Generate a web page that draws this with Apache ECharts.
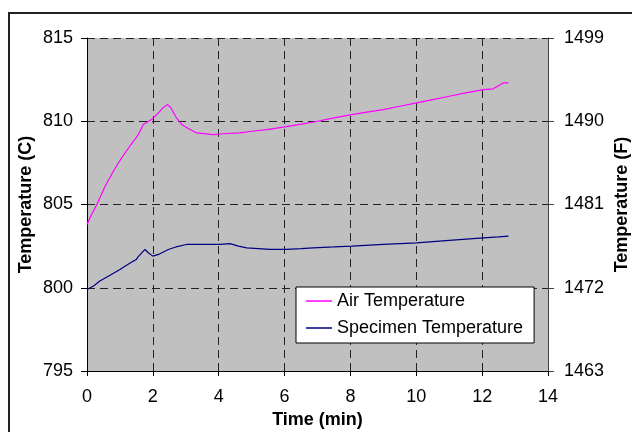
<!DOCTYPE html>
<html><head><meta charset="utf-8">
<script src="https://cdn.jsdelivr.net/npm/echarts@6/dist/echarts.min.js"></script>
<style>html,body{margin:0;padding:0;background:#fff}#c{width:632px;height:432px}</style>
</head><body><div id="c"></div>
<script>
const airTime = [0,0.09,0.3,0.55,0.8,1.05,1.3,1.56,1.71,1.96,2.17,2.3,2.45,2.55,2.72,2.88,3.05,3.33,3.84,4.14,4.65,5.0,5.46,5.96,6.42,7.0,7.5,8.04,8.5,9.0,9.5,10.01,10.5,11.0,11.5,12.04,12.34,12.64,12.8];
const airTemp = [803.8,804.2,805.0,806.1,807.0,807.8,808.5,809.2,809.8,810.1,810.5,810.8,811.0,810.8,810.2,809.8,809.6,809.3,809.2,809.25,809.3,809.4,809.5,809.65,809.8,810.0,810.2,810.4,810.55,810.7,810.9,811.1,811.3,811.5,811.7,811.9,811.95,812.3,812.3];
const specTime = [0,0.05,0.2,0.39,0.7,1.0,1.2,1.41,1.5,1.55,1.61,1.76,1.86,2.0,2.17,2.47,2.7,3.02,3.5,4.04,4.34,4.6,4.85,5.2,5.56,6.06,6.5,6.87,7.5,8.04,9.0,10.01,11.0,12.04,12.5,12.8];
const specTemp = [799.9,799.85,800.1,800.4,800.75,801.1,801.35,801.6,801.7,801.85,801.8,802.3,802.1,801.9,802.0,802.3,802.45,802.6,802.6,802.6,802.65,802.5,802.4,802.35,802.3,802.3,802.35,802.4,802.45,802.5,802.6,802.7,802.85,803.0,803.05,803.1];
const leftTicks = [795,800,805,810,815];
const rightTickLabels = ['1463','1472','1481','1490','1499'];
const xTicks = [0,2,4,6,8,10,12,14];
const seriesNames = ['Air Temperature','Specimen Temperature'];

const F = 'Liberation Sans, Arial, sans-serif';
const chart = echarts.init(document.getElementById('c'), null, {renderer:'canvas'});
const grid = {left:87, right:84, top:38, bottom:61, show:true, backgroundColor:'#C0C0C0', borderWidth:0, containLabel:false, outerBoundsMode:'none'};
const dash = {color:'#222', type:[8,5], width:1};
chart.setOption({
  animation:false,
  textStyle:{fontFamily:F},
  graphic:[{type:'rect', shape:{x:9, y:13, width:700, height:500}, style:{fill:'none', stroke:'#222', lineWidth:2}, silent:true, z:-10}],
  grid: grid,
  legend:{
    left:296, top:287, orient:'vertical',
    data:seriesNames.map(n=>({name:n, icon:'rect'})),
    backgroundColor:'#fff', borderColor:'#000', borderWidth:1,
    padding:[5,11,6,10], itemGap:9, itemWidth:26, itemHeight:1.5,
    textStyle:{fontFamily:F, fontSize:18, color:'#000'}
  },
  xAxis:{
    type:'value', min:xTicks[0], max:xTicks[xTicks.length-1], interval:2,
    name:'Time (min)', nameLocation:'middle', nameGap:39,
    nameTextStyle:{fontFamily:F, fontSize:18, fontWeight:'bold', color:'#000'},
    axisLine:{lineStyle:{color:'#000', width:1}},
    axisTick:{show:true, length:5, lineStyle:{color:'#000'}},
    axisLabel:{fontFamily:F, fontSize:18, color:'#000', margin:17},
    splitLine:{show:true, lineStyle:dash}
  },
  yAxis:[{
    type:'value', min:leftTicks[0], max:leftTicks[leftTicks.length-1], interval:5,
    name:'Temperature (C)', nameLocation:'middle', nameGap:52, nameRotate:90, nameMoveOverlap:false,
    nameTextStyle:{fontFamily:F, fontSize:18, fontWeight:'bold', color:'#000'},
    axisLine:{show:true, lineStyle:{color:'#000', width:1}},
    axisTick:{show:true, length:6, lineStyle:{color:'#000'}},
    axisLabel:{fontFamily:F, fontSize:18, color:'#000', margin:14},
    splitLine:{show:true, lineStyle:dash}
  },{
    type:'value', position:'right', min:leftTicks[0], max:leftTicks[leftTicks.length-1], interval:5,
    name:'Temperature (F)', nameLocation:'middle', nameGap:65, nameRotate:90, nameMoveOverlap:false,
    nameTextStyle:{fontFamily:F, fontSize:18, fontWeight:'bold', color:'#000'},
    axisLine:{show:true, lineStyle:{color:'#404040', width:1}},
    axisTick:{show:true, length:6, lineStyle:{color:'#404040'}},
    axisLabel:{fontFamily:F, fontSize:18, color:'#000', margin:16,
      formatter:function(v){ const i = leftTicks.indexOf(v); return i>=0 ? rightTickLabels[i] : ''; }},
    splitLine:{show:false}
  }],
  series:[{
    name:seriesNames[0], type:'line', symbol:'none', yAxisIndex:0,
    lineStyle:{color:'#FF00FF', width:1.2}, itemStyle:{color:'#FF00FF'},
    data: airTime.map((t,i)=>[t, airTemp[i]])
  },{
    name:seriesNames[1], type:'line', symbol:'none', yAxisIndex:0,
    lineStyle:{color:'#000080', width:1.2}, itemStyle:{color:'#000080'},
    data: specTime.map((t,i)=>[t, specTemp[i]])
  }]
});
</script></body></html>
